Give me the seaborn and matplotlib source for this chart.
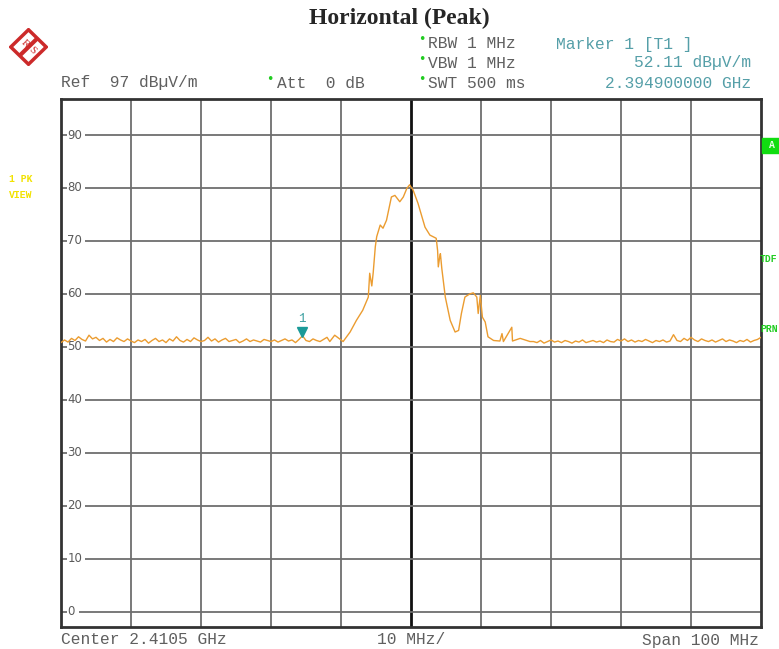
import matplotlib
matplotlib.use("Agg")
import matplotlib.pyplot as plt
from matplotlib.patches import Polygon, Rectangle
import numpy as np
import pandas as pd
import seaborn as sns

# Sweep: offset from start frequency (2.3605 GHz) in MHz, level in dBuV/m
sweep_step = 0.5
left_floor_start = 0.0
left_floor = [50.8, 51.3, 50.9, 51.6, 51.2, 51.9, 51.4, 51.1, 52.2, 51.5,
              51.8, 51.2, 51.6, 50.9, 51.4, 51.0, 51.7, 51.3, 51.0, 51.5,
              51.1, 50.8, 51.3, 51.0, 51.4, 50.7, 51.2, 51.6, 51.0, 51.3,
              50.8, 51.5, 51.1, 51.9, 51.2, 50.9, 51.4, 51.0, 51.7, 51.3,
              51.0, 51.2, 51.8, 51.1, 51.5, 50.9, 51.3, 51.6, 51.0, 51.2,
              51.4, 50.8, 51.1, 51.5, 51.0, 51.3, 51.1, 50.9, 51.4, 51.2,
              51.0, 51.3, 50.9, 51.2, 51.5, 51.1, 51.3, 50.8, 51.4, 52.1,
              51.2, 51.0, 51.5, 51.2, 51.0, 51.4, 51.8]

signal_mhz = [38.4, 39.1, 40.3, 41.3, 42.2, 43.1, 43.9, 44.1, 44.4, 44.6,
              44.9, 45.1, 45.6, 46.0, 46.5, 47.2, 47.7, 48.4, 48.9, 49.4,
              49.8, 50.3, 51.0, 52.0, 52.7, 53.6, 53.8, 53.9, 54.1, 54.2,
              54.4, 54.9, 55.6, 56.3, 56.8, 57.2, 57.7, 58.4, 58.9, 59.4,
              59.6, 59.9, 60.2, 60.6, 61.0, 61.8, 62.7, 63.0, 63.2, 64.4,
              64.5, 65.6, 67.0]
signal_db = [51.0, 52.2, 51.0, 52.8, 55.0, 56.9, 59.4, 63.9, 61.5, 64.0,
             68.9, 70.8, 73.0, 72.4, 73.9, 78.3, 78.6, 77.4, 78.3, 79.9,
             80.6, 79.6, 77.1, 72.6, 71.1, 70.5, 68.2, 65.1, 67.0, 67.6,
             64.8, 59.4, 55.0, 52.8, 53.1, 56.3, 59.4, 60.0, 60.2, 59.4,
             56.3, 59.7, 55.6, 54.7, 51.9, 51.2, 51.1, 52.5, 51.0, 53.7,
             51.1, 51.6, 51.0]

right_floor_start = 67.5
right_floor = [51.0, 50.8, 51.2, 50.7, 51.0, 51.3, 50.9, 51.1, 50.8, 51.2,
               51.0, 50.7, 51.1, 50.9, 51.3, 50.8, 51.0, 51.2, 50.9, 51.1,
               50.8, 51.3, 51.0, 50.9, 51.4, 51.1, 51.5, 51.0, 51.3, 50.9,
               51.2, 51.0, 51.4, 51.1, 50.8, 51.2, 51.0, 51.3, 50.9, 51.1,
               52.3, 51.2, 51.0, 51.6, 51.2, 51.8, 51.3, 51.0, 51.5, 51.2,
               51.0, 51.3, 50.9, 51.2, 51.5, 51.0, 51.3, 51.1, 50.8, 51.2,
               51.0, 51.4, 50.9, 51.2, 51.4, 51.8]

marker_mhz = 34.4
marker_db = 52.11
grid_db = [90, 80, 70, 60, 50, 40, 30, 20, 10, 0]
grid_mhz = [10, 20, 30, 40, 60, 70, 80, 90]
center_mhz = 50

W, H = 779, 649


def fx(x):
    return x / W


def fy(y):
    return 1 - y / H


# Build the trace table
left_x = left_floor_start + sweep_step * np.arange(len(left_floor))
right_x = right_floor_start + sweep_step * np.arange(len(right_floor))
trace = pd.DataFrame({
    "mhz": np.concatenate([left_x, signal_mhz, right_x]),
    "db": np.concatenate([left_floor, signal_db, right_floor]),
})

sns.set_style("white")
plt.rcParams["font.family"] = ["DejaVu Sans"]

fig = plt.figure(figsize=(W / 100, H / 100), dpi=100)
ax = fig.add_axes([fx(61), fy(627), fx(761) - fx(61), fy(99) - fy(627)])
ax.set_xlim(0, 100)
ax.set_ylim(-2.9, 96.8)

# Grid
for v in grid_mhz:
    ax.axvline(v, color="#6e6e6e", lw=1.3, zorder=1)
ax.axvline(center_mhz, color="#111111", lw=2.0, zorder=1)
for g in grid_db:
    start = 2.6 if g == 0 else 3.4
    ax.hlines(g, start, 100, color="#6e6e6e", lw=1.3, zorder=1)
    ax.hlines(g, 0, 0.8, color="#6e6e6e", lw=1.3, zorder=1)
    ax.text(0.9, g, str(g), fontsize=8.5, color="#5a5a5a",
            ha="left", va="center", zorder=2)

# Trace
sns.lineplot(data=trace, x="mhz", y="db", ax=ax, color="#eb9c30",
             lw=1.0, sort=False, estimator=None, zorder=3)

# Marker 1
ax.plot([marker_mhz], [marker_db + 0.7], marker="v", ms=7,
        color="#1a9a98", zorder=4)
ax.text(marker_mhz, marker_db + 2.0, "1", fontsize=9, color="#3a9fa0",
        ha="center", va="bottom", family="Liberation Mono", zorder=4)

ax.set_xticks([])
ax.set_yticks([])
ax.set_xlabel("")
ax.set_ylabel("")
for s in ax.spines.values():
    s.set_color("#333333")
    s.set_linewidth(2)

# Header texts
mono = "Liberation Mono"
fs = 11.7
grey = "#5f5f5f"
teal = "#559fa8"
green = "#22cc22"
fig.text(fx(399), fy(18), "Horizontal (Peak)", family="Liberation Serif",
         weight="bold", fontsize=17, ha="center", va="center")
fig.text(fx(61), fy(83), "Ref  97 dBµV/m", family=mono, fontsize=fs,
         color=grey, ha="left", va="center")
fig.text(fx(277), fy(83), "Att  0 dB", family=mono, fontsize=fs,
         color=grey, ha="left", va="center")
fig.text(fx(428), fy(44), "RBW 1 MHz", family=mono, fontsize=fs,
         color=grey, ha="left", va="center")
fig.text(fx(428), fy(63), "VBW 1 MHz", family=mono, fontsize=fs,
         color=grey, ha="left", va="center")
fig.text(fx(428), fy(83), "SWT 500 ms", family=mono, fontsize=fs,
         color=grey, ha="left", va="center")
for dx, dy in [(270, 79), (422, 40), (422, 59), (422, 79)]:
    fig.text(fx(dx), fy(dy), "•", fontsize=9, color=green,
             ha="center", va="center")
fig.text(fx(556), fy(44), "Marker 1 [T1 ]", family=mono, fontsize=fs,
         color=teal, ha="left", va="center")
fig.text(fx(751), fy(63), "52.11 dBµV/m", family=mono, fontsize=fs,
         color=teal, ha="right", va="center")
fig.text(fx(751), fy(83), "2.394900000 GHz", family=mono, fontsize=fs,
         color=teal, ha="right", va="center")

# Footer texts
fig.text(fx(61), fy(640), "Center 2.4105 GHz", family=mono, fontsize=fs,
         color=grey, ha="left", va="center")
fig.text(fx(377), fy(640), "10 MHz/", family=mono, fontsize=fs,
         color=grey, ha="left", va="center")
fig.text(fx(759), fy(640), "Span 100 MHz", family=mono, fontsize=fs,
         color=grey, ha="right", va="center")

# Side annotations
fig.text(fx(9), fy(179), "1 PK", family=mono, fontsize=7, weight="bold",
         color="#f2e200", ha="left", va="center")
fig.text(fx(9), fy(195), "VIEW", family=mono, fontsize=7, weight="bold",
         color="#f2e200", ha="left", va="center")
fig.patches.append(Rectangle((fx(762), fy(153)), fx(779) - fx(762),
                             fy(138) - fy(153), transform=fig.transFigure,
                             color="#11dd11", zorder=5))
fig.text(fx(772), fy(145), "A", family=mono, fontsize=7, weight="bold",
         color="#e8ffe8", ha="center", va="center", zorder=6)
fig.text(fx(760), fy(259), "TDF", family=mono, fontsize=7, weight="bold",
         color=green, ha="left", va="center")
fig.text(fx(760), fy(329), "PRN", family=mono, fontsize=7, weight="bold",
         color=green, ha="left", va="center")

# R&S logo
red = "#cc2a2a"
logo = fig.add_axes([fx(9), fy(66), fx(48) - fx(9), fy(28) - fy(66)])
logo.set_xlim(-1.1, 1.1)
logo.set_ylim(-1.1, 1.1)
logo.axis("off")
logo.add_patch(Polygon([(0, 1), (1, 0), (0, -1), (-1, 0)], closed=True,
                       fill=False, ec=red, lw=2.5))
logo.plot([-0.45, 0.45], [-0.45, 0.45], color=red, lw=3)
logo.text(-0.22, 0.2, "R", color=red, fontsize=8, rotation=-45,
          ha="center", va="center", family="Liberation Serif")
logo.text(0.22, -0.22, "S", color=red, fontsize=8, rotation=-45,
          ha="center", va="center", family="Liberation Serif")

fig.savefig("out.png", dpi=100)
